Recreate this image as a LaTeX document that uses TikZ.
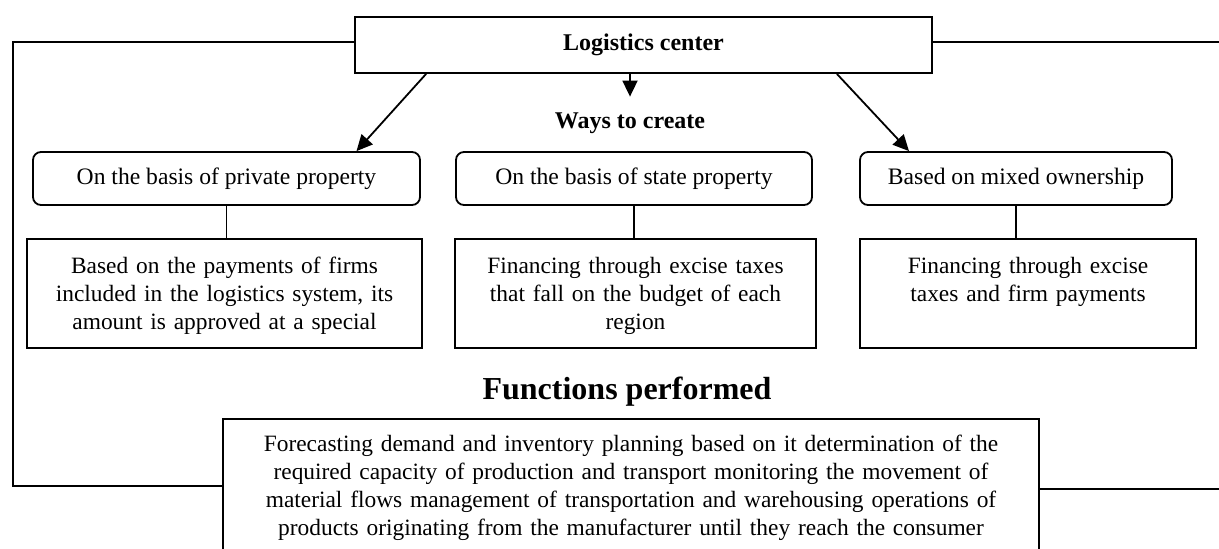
\documentclass[tikz,border=0pt]{standalone}
\usepackage{fontspec}
\setmainfont{Liberation Serif}
\usetikzlibrary{arrows.meta, positioning, calc}
\tikzset {
  topbox/.style = {draw, line width=0.9pt, minimum width=288.5pt, minimum height=28pt, font=\fontsize{12}{14}\selectfont\bfseries},
  waybox/.style = {draw, line width=0.9pt, rounded corners=4pt, minimum height=26.5pt, text depth=2pt, font=\fontsize{11.8}{14}\selectfont},
  finbox/.style = {draw, line width=0.9pt, rectangle, anchor=north, align=center, inner xsep=5pt, inner ysep=8.5pt, text height=9pt, text depth=28.5pt, font=\fontsize{11.7}{14}\selectfont},
  funcbox/.style = {draw, line width=0.9pt, rectangle, anchor=north, align=center, text width=398pt, inner xsep=5pt, inner ysep=8pt, text height=8.5pt, text depth=60pt, font=\fontsize{11.7}{14}\selectfont},
  heading/.style = {inner xsep=2pt, inner ysep=7pt, text height=8.5pt, text depth=2.5pt, font=\fontsize{12}{14}\selectfont\bfseries},
  bigheading/.style = {inner sep=2pt, font=\fontsize{16}{18}\selectfont\bfseries},
  line/.style = {-{Triangle[length=8pt, width=7.5pt]}, line width=0.9pt},
  frame/.style = {line width=0.9pt}
}

\begin{document}
\begin{tikzpicture}[x=0.5pt, y=-0.5pt]
    \useasboundingbox (0,0) rectangle (1219,548);

    \node[topbox] (center) at (643.5,45) {Logistics center};
    \node[heading] (ways) at (630,122) {Ways to create};

    \node[waybox, minimum width=193.5pt] (private) at (226.5,178.5) {On the basis of private property};
    \node[waybox, minimum width=178pt] (state) at (634,178.5) {On the basis of state property};
    \node[waybox, minimum width=156pt] (mixed) at (1016,178.5) {Based on mixed ownership};

    \node[finbox, text width=187.5pt] (payfirms) at (224.5,238) {Based on the payments of firms\\ included in the logistics system, its\\ amount is approved at a special};
    \node[finbox, text width=170.5pt] (excise) at (635.5,238) {Financing through excise taxes\\ that fall on the budget of each\\ region};
    \node[finbox, text width=158pt] (excisefirm) at (1028,238) {Financing through excise\\ taxes and firm payments};

    \node[bigheading] (functions) at (627,392) {Functions performed};
    \node[funcbox] (tasks) at (631,418) {Forecasting demand and inventory planning based on it determination of the\\ required capacity of production and transport monitoring the movement of\\ material flows management of transportation and warehousing operations of\\ products originating from the manufacturer until they reach the consumer};

    \coordinate (leftcorner) at (13,486);
    \coordinate (rightedge) at (1219,42);
    \coordinate (rightlow) at (1219,489);

    \draw[line] ([xshift=36pt]center.south west) -- ([xshift=65pt]private.north);
    \draw[line] (center.south -| ways.north) -- (ways.north);
    \draw[line] ([xshift=-48pt]center.south east) -- ([xshift=-53.5pt]mixed.north);

    \draw[frame] (private.south) -- (private.south |- payfirms.north);
    \draw[frame] (state.south) -- (state.south |- excise.north);
    \draw[frame] (mixed.south) -- (mixed.south |- excisefirm.north);

    \draw[frame] ([yshift=1.5pt]center.west) -| (leftcorner) -- (leftcorner -| tasks.west);
    \draw[frame] ([yshift=1.5pt]center.east) -- (rightedge);
    \draw[frame] (rightlow -| tasks.east) -- (rightlow);

\end{tikzpicture}
\end{document}
